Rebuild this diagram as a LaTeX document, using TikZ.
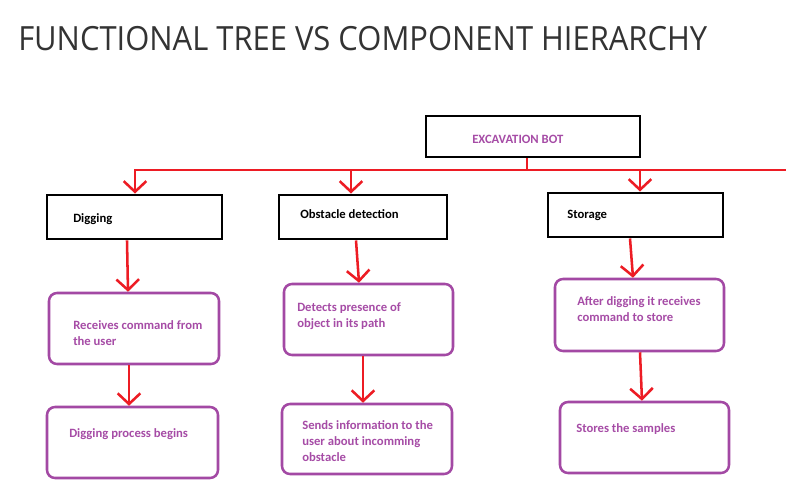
\documentclass[tikz,border=0pt]{standalone}
\usepackage{fontspec}
\setmainfont{Carlito}
\newfontfamily\titlefont{Open Sans}
\usetikzlibrary{arrows.meta,calc}
\newdimen\pxu \pxu=0.75pt
\definecolor{rd}{HTML}{ED1C24}
\definecolor{pur}{HTML}{A349A4}
\definecolor{ptext}{HTML}{A64CA6}
\definecolor{ttl}{HTML}{333333}
\tikzset{
 blackbox/.style={draw=black, line width=2.2pt, rectangle, inner sep=0pt},
 purplebox/.style={draw=pur, line width=1.9pt, rounded corners=6pt, rectangle, inner sep=0pt},
 arr/.style={draw=rd, line width=1.9pt, -{Straight Barb[length=8pt,width=17pt]}},
 busline/.style={draw=rd, line width=1.9pt},
 ptxt/.style={text=ptext, font=\bfseries\fontsize{9.5}{12}\selectfont, anchor=base west, align=left, inner sep=0pt},
 btxt/.style={text=black, font=\bfseries\fontsize{9.5}{12}\selectfont, anchor=base west, inner sep=0pt}
}
\begin{document}
\begin{tikzpicture}[x=0.75pt,y=-0.75pt]
\useasboundingbox[fill=white] (0,0) rectangle (786,493);
% title
\node[anchor=base west, inner sep=0pt, text=ttl, font=\titlefont\fontsize{25}{28}\selectfont] (title) at (18,50) {\scalebox{0.928}[1]{FUNCTIONAL TREE VS COMPONENT HIERARCHY}};
% boxes
\node[blackbox, minimum width=214\pxu, minimum height=41\pxu] (exc) at (533,136.5) {};
\node[blackbox, minimum width=175\pxu, minimum height=44\pxu] (dig) at (134.5,217) {};
\node[blackbox, minimum width=168\pxu, minimum height=44\pxu] (obs) at (363,217) {};
\node[blackbox, minimum width=175\pxu, minimum height=44\pxu] (sto) at (635.5,215) {};
\node[purplebox, minimum width=170\pxu, minimum height=71\pxu] (r1) at (134,328.5) {};
\node[purplebox, minimum width=171\pxu, minimum height=71\pxu] (r2) at (132.5,442.5) {};
\node[purplebox, minimum width=169\pxu, minimum height=71\pxu] (o1) at (368.5,319.5) {};
\node[purplebox, minimum width=170\pxu, minimum height=70\pxu] (o2) at (367,439) {};
\node[purplebox, minimum width=169\pxu, minimum height=72\pxu] (s1) at (639.5,315) {};
\node[purplebox, minimum width=169\pxu, minimum height=71\pxu] (s2) at (644.5,437.5) {};
% texts (anchor = baseline of last line)
\node[ptxt] (texc) at (472,143) {EXCAVATION BOT};
\node[btxt] (tdig) at (73,222) {Digging};
\node[btxt] (tobs) at (300,218) {Obstacle detection};
\node[btxt] (tsto) at (567,218) {Storage};
\node[ptxt] (tr1) at (73,345) {Receives command from\\the user};
\node[ptxt] (tr2) at (69,437) {Digging process begins};
\node[ptxt] (to1) at (297,327) {Detects presence of\\object in its path};
\node[ptxt] (to2) at (302,461) {Sends information to the\\user about incomming\\obstacle};
\node[ptxt] (ts1) at (577,321) {After digging it receives\\command to store};
\node[ptxt] (ts2) at (576,432) {Stores the samples};
% bus
\coordinate (busL) at (134,170);
\coordinate (busR) at (786,170);
\coordinate (excB) at ([xshift=-6\pxu]exc.south);
\draw[busline] (excB) -- (excB |- busL);
\draw[busline] (busL) -- (busR);
\coordinate (digT) at ([xshift=0.5\pxu]dig.north);
\coordinate (obsT) at ([xshift=-12\pxu]obs.north);
\coordinate (stoT) at ([xshift=4.5\pxu]sto.north);
\draw[arr] (digT |- busL) -- (digT);
\draw[arr] (obsT |- busL) -- (obsT);
\draw[arr] (stoT |- busL) -- (stoT);
% chains
\draw[arr] ([xshift=-7.5\pxu]dig.south) -- ([xshift=-6\pxu]r1.north);
\draw[arr] ([xshift=-5\pxu]r1.south) -- ([xshift=-3.5\pxu]r2.north);
\draw[arr] ([xshift=-7\pxu]obs.south) -- ([xshift=-9.5\pxu]o1.north);
\draw[arr] ([xshift=-5.5\pxu]o1.south) -- ([xshift=-4\pxu]o2.north);
\draw[arr] ([xshift=-5.5\pxu]sto.south) -- ([xshift=-6.5\pxu]s1.north);
\draw[arr] ([xshift=0.5\pxu]s1.south) -- ([xshift=-2.5\pxu]s2.north);
\end{tikzpicture}
\end{document}
